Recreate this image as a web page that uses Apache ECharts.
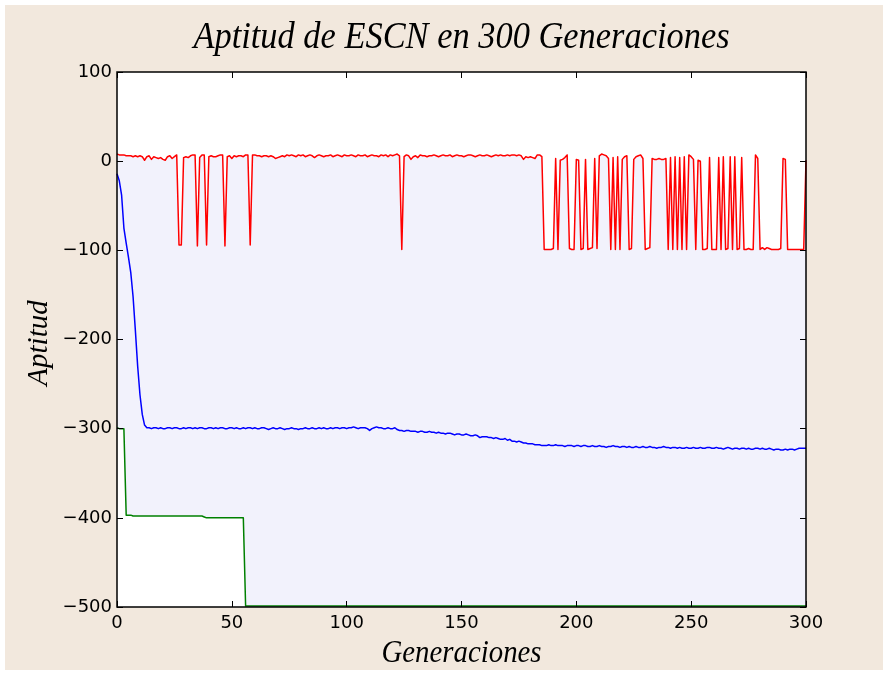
<!DOCTYPE html>
<html>
<head>
<meta charset="utf-8">
<title>Aptitud de ESCN en 300 Generaciones</title>
<script src="https://cdn.jsdelivr.net/npm/echarts@6/dist/echarts.min.js"></script>
<style>
  html, body { margin: 0; padding: 0; background: #ffffff; }
  #chart { width: 888px; height: 675px; }
</style>
</head>
<body>
<div id="chart"></div>
<script>
// Fitness per generation (index = generation 0..300)
const maxFitness = [
  8,7,7,7,6,6,6,5,6,5,
  6,5,1,5,6,2,5,4,3,4,
  2,1,5,6,3,5,7,-94,-94,4,
  5,4,6,7,7,-95,4,7,7,-94,
  5,6,5,5,6,7,7,-95,5,6,
  3,6,5,6,6,5,7,7,-94,7,
  7,6,6,5,6,6,5,6,5,3,
  4,5,6,5,7,6,7,6,5,7,
  6,7,5,6,7,6,4,6,7,6,
  5,6,6,7,5,6,7,6,5,7,
  6,6,7,6,5,7,6,6,7,5,
  6,7,6,6,5,7,6,7,5,7,
  6,7,8,6,-99,5,7,6,2,5,
  6,4,7,6,6,5,6,6,7,6,
  5,6,7,6,6,7,5,6,7,6,
  6,5,6,7,7,6,5,6,7,6,
  6,7,6,5,6,7,6,7,6,6,
  7,6,7,7,6,7,6,2,5,4,
  5,4,3,7,7,5,-99,-99,-99,-99,
  -98,3,-99,1,2,4,7,-98,-99,-99,
  2,1,-99,-98,2,-99,-98,-97,3,-98,
  6,8,7,6,3,-99,4,-99,5,-99,
  2,5,6,-99,-98,2,5,6,7,3,
  -99,-98,-97,3,2,2,3,2,2,3,
  -99,4,-99,5,-99,4,-99,5,-99,7,
  5,2,-99,1,0,-99,-99,-98,4,-99,
  -99,-99,4,-99,5,-99,-98,5,-99,5,
  -99,-98,4,-99,-99,-98,-99,-99,7,3,
  -99,-97,-99,-97,-98,-99,-99,-99,-99,-98,
  3,2,-99,-99,-99,-99,-99,-99,-99,-99,
  1
];

const meanFitness = [
  -14,-22,-38,-75,-92,-108,-125,-152,-190,-230,
  -262,-284,-296,-299,-299,-300,-299,-299,-300,-299,
  -300,-300,-299,-299,-300,-299,-299,-300,-300,-299,
  -300,-299,-299,-300,-299,-300,-299,-299,-300,-300,
  -299,-299,-300,-299,-300,-299,-299,-300,-300,-299,
  -299,-300,-299,-300,-300,-299,-300,-299,-299,-300,
  -299,-300,-300,-299,-299,-300,-301,-300,-299,-300,
  -300,-299,-300,-301,-300,-300,-299,-300,-300,-301,
  -300,-300,-299,-300,-300,-299,-300,-300,-299,-300,
  -299,-300,-300,-299,-300,-299,-299,-300,-299,-299,
  -300,-299,-299,-298,-299,-300,-299,-299,-299,-300,
  -302,-300,-299,-298,-299,-299,-300,-300,-299,-300,
  -300,-299,-301,-302,-302,-303,-302,-302,-303,-303,
  -303,-304,-303,-303,-304,-304,-303,-304,-304,-305,
  -304,-305,-305,-306,-305,-305,-306,-307,-306,-306,
  -307,-307,-306,-307,-308,-308,-307,-308,-310,-309,
  -309,-309,-310,-310,-311,-310,-311,-312,-312,-311,
  -313,-312,-314,-314,-315,-314,-315,-316,-316,-317,
  -317,-317,-318,-318,-318,-319,-319,-319,-318,-319,
  -319,-318,-319,-319,-319,-320,-319,-319,-319,-320,
  -319,-319,-320,-319,-319,-320,-320,-319,-320,-320,
  -319,-320,-320,-321,-320,-320,-319,-320,-320,-321,
  -320,-320,-321,-320,-321,-321,-320,-321,-321,-320,
  -321,-321,-320,-321,-321,-322,-321,-321,-320,-321,
  -321,-322,-321,-321,-322,-321,-322,-322,-321,-322,
  -322,-321,-322,-322,-321,-322,-322,-321,-321,-322,
  -322,-321,-322,-322,-323,-322,-321,-322,-323,-322,
  -322,-323,-322,-322,-323,-322,-323,-323,-322,-322,
  -323,-322,-323,-323,-322,-323,-324,-323,-323,-324,
  -324,-323,-324,-323,-323,-324,-323,-322,-322,-322,
  -322
];

const minFitness = [
  -299,-300,-300,-300,-397,-397,-397,-398,-398,-398,
  -398,-398,-398,-398,-398,-398,-398,-398,-398,-398,
  -398,-398,-398,-398,-398,-398,-398,-398,-398,-398,
  -398,-398,-398,-398,-398,-398,-398,-398,-399,-400,
  -400,-400,-400,-400,-400,-400,-400,-400,-400,-400,
  -400,-400,-400,-400,-400,-400,-499,-499,-499,-499,
  -499,-499,-499,-499,-499,-499,-499,-499,-499,-499,
  -499,-499,-499,-499,-499,-499,-499,-499,-499,-499,
  -499,-499,-499,-499,-499,-499,-499,-499,-499,-499,
  -499,-499,-499,-499,-499,-499,-499,-499,-499,-499,
  -499,-499,-499,-499,-499,-499,-499,-499,-499,-499,
  -499,-499,-499,-499,-499,-499,-499,-499,-499,-499,
  -499,-499,-499,-499,-499,-499,-499,-499,-499,-499,
  -499,-499,-499,-499,-499,-499,-499,-499,-499,-499,
  -499,-499,-499,-499,-499,-499,-499,-499,-499,-499,
  -499,-499,-499,-499,-499,-499,-499,-499,-499,-499,
  -499,-499,-499,-499,-499,-499,-499,-499,-499,-499,
  -499,-499,-499,-499,-499,-499,-499,-499,-499,-499,
  -499,-499,-499,-499,-499,-499,-499,-499,-499,-499,
  -499,-499,-499,-499,-499,-499,-499,-499,-499,-499,
  -499,-499,-499,-499,-499,-499,-499,-499,-499,-499,
  -499,-499,-499,-499,-499,-499,-499,-499,-499,-499,
  -499,-499,-499,-499,-499,-499,-499,-499,-499,-499,
  -499,-499,-499,-499,-499,-499,-499,-499,-499,-499,
  -499,-499,-499,-499,-499,-499,-499,-499,-499,-499,
  -499,-499,-499,-499,-499,-499,-499,-499,-499,-499,
  -499,-499,-499,-499,-499,-499,-499,-499,-499,-499,
  -499,-499,-499,-499,-499,-499,-499,-499,-499,-499,
  -499,-499,-499,-499,-499,-499,-499,-499,-499,-499,
  -499,-499,-499,-499,-499,-499,-499,-499,-499,-499,
  -499
];

const xTicks = [0, 50, 100, 150, 200, 250, 300];
const yTicks = [-500, -400, -300, -200, -100, 0, 100];

const titleText = 'Aptitud de ESCN en 300 Generaciones';
const xLabel = 'Generaciones';
const yLabel = 'Aptitud';

// pair each value with its generation number
const toPairs = arr => arr.map((v, i) => [i, v]);

// plot box in pixels
const GRID = { left: 117, right: 82, top: 72, bottom: 68 };
const W = 888, H = 675;

const tickFont = { fontFamily: 'DejaVu Sans', fontSize: 18, color: '#000' };
const minusFmt = v => (v < 0 ? '\u2212' + Math.abs(v) : String(v));

const tickStyle = { show: true, inside: true, length: 6, lineStyle: { color: '#000', width: 1 } };

const xBase = {
  type: 'value', z: 10,
  min: xTicks[0], max: xTicks[xTicks.length - 1], interval: xTicks[1] - xTicks[0],
  axisLine: { show: false, onZero: false },
  axisTick: tickStyle,
  splitLine: { show: false }
};
const yBase = {
  type: 'value', z: 10,
  min: yTicks[0], max: yTicks[yTicks.length - 1], interval: yTicks[1] - yTicks[0],
  axisLine: { show: false, onZero: false },
  axisTick: tickStyle,
  splitLine: { show: false }
};

const chart = echarts.init(document.getElementById('chart'), null, { renderer: 'canvas' });

chart.setOption({
  animation: false,
  backgroundColor: '#f2e8dd',
  grid: Object.assign({ show: true, backgroundColor: '#ffffff', borderWidth: 0 }, GRID),
  xAxis: [
    Object.assign({}, xBase, { position: 'bottom',
      axisLabel: Object.assign({ margin: 7 }, tickFont) }),
    Object.assign({}, xBase, { position: 'top', axisLabel: { show: false } })
  ],
  yAxis: [
    Object.assign({}, yBase, { position: 'left',
      axisLabel: Object.assign({ margin: 5, formatter: minusFmt }, tickFont) }),
    Object.assign({}, yBase, { position: 'right', axisLabel: { show: false } })
  ],
  graphic: [
    {
      // plot frame drawn above the shaded band
      type: 'rect', silent: true, z: 50,
      shape: { x: GRID.left, y: GRID.top,
               width: W - GRID.left - GRID.right, height: H - GRID.top - GRID.bottom },
      style: { fill: 'none', stroke: '#000', lineWidth: 1.5 }
    },
    {
      type: 'text', x: 461.5, y: 38.5, scaleX: 0.93, silent: true,
      style: {
        text: titleText, fill: '#000', fontStyle: 'italic',
        fontFamily: 'Liberation Serif', fontSize: 37,
        textAlign: 'center', textVerticalAlign: 'middle'
      }
    },
    {
      type: 'text', x: 461.5, y: 654, scaleX: 0.93, silent: true,
      style: {
        text: xLabel, fill: '#000', fontStyle: 'italic',
        fontFamily: 'Liberation Serif', fontSize: 31,
        textAlign: 'center', textVerticalAlign: 'middle'
      }
    },
    {
      type: 'text', x: 39, y: 343, rotation: Math.PI / 2, silent: true,
      style: {
        text: yLabel, fill: '#000', fontStyle: 'italic',
        fontFamily: 'Liberation Serif', fontSize: 29,
        textAlign: 'center', textVerticalAlign: 'middle'
      }
    },
    {
      // white outer frame around the figure
      type: 'rect', silent: true, z: 100,
      shape: { x: 0, y: 0, width: W, height: H },
      style: { fill: 'none', stroke: '#ffffff', lineWidth: 10 }
    }
  ],
  series: [
    {
      // shading between best and worst: lavender under the max curve...
      name: 'band-top', type: 'line', data: toPairs(maxFitness),
      symbol: 'none', silent: true, z: 1,
      lineStyle: { opacity: 0 },
      areaStyle: { color: '#f2f2fc', opacity: 1, origin: 'start' }
    },
    {
      // ...cleared again under the min curve
      name: 'band-bottom', type: 'line', data: toPairs(minFitness),
      symbol: 'none', silent: true, z: 1,
      lineStyle: { opacity: 0 },
      areaStyle: { color: '#ffffff', opacity: 1, origin: 'start' }
    },
    {
      name: 'max', type: 'line', data: toPairs(maxFitness), symbol: 'none',
      lineStyle: { color: '#ff0000', width: 1.5, join: 'round' }, z: 3
    },
    {
      name: 'mean', type: 'line', data: toPairs(meanFitness), symbol: 'none',
      lineStyle: { color: '#0000ff', width: 1.5, join: 'round' }, z: 3
    },
    {
      name: 'min', type: 'line', data: toPairs(minFitness), symbol: 'none',
      lineStyle: { color: '#008000', width: 1.5, join: 'round' }, z: 3
    }
  ]
});
</script>
</body>
</html>
